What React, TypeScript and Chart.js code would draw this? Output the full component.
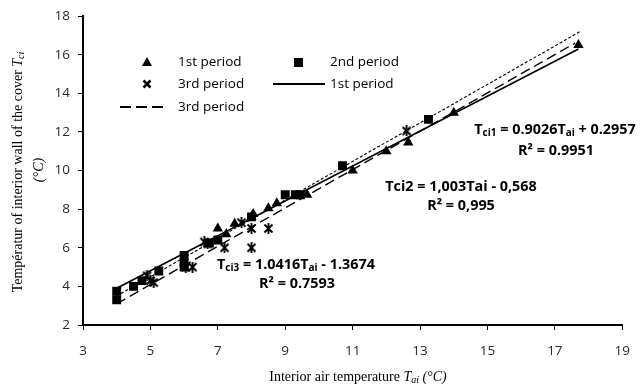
import React, { useEffect, useRef } from 'react';
import { Chart, registerables } from 'chart.js';

Chart.register(...registerables);

// ---- data ----
const p1X = [7.0, 7.25, 7.5, 8.0, 8.05, 8.5, 8.75, 9.65, 11.0, 12.0, 12.65, 14.0, 17.7];
const p1Y = [7.0, 6.7, 7.25, 7.6, 7.75, 8.05, 8.3, 8.75, 10.0, 11.0, 11.45, 13.0, 16.5];

const p2X = [4.0, 4.0, 4.5, 4.75, 5.25, 6.0, 6.0, 6.0, 6.75, 7.0, 8.0, 9.0, 9.3, 9.45, 10.7, 13.25];
const p2Y = [3.75, 3.3, 4.0, 4.3, 4.8, 5.6, 5.2, 5.0, 6.25, 6.4, 7.6, 8.75, 8.75, 8.75, 10.25, 12.65];

const p3X = [4.9, 5.0, 5.1, 6.05, 6.25, 6.6, 6.7, 7.2, 7.7, 8.0, 8.0, 8.5, 12.6];
const p3Y = [4.55, 4.3, 4.2, 5.0, 5.0, 6.3, 6.2, 6.0, 7.3, 6.0, 7.0, 7.0, 12.05];

// trend line end points (as drawn in the reference)
const trend1X = [4, 17.7];
const trend1Y = [3.9, 16.3];
const trend2X = [4, 17.75];
const trend2Y = [3.5, 17.2];
const trend3X = [4, 17.6];
const trend3Y = [3.1, 16.6];

const xTickValues = [3, 5, 7, 9, 11, 13, 15, 17, 19];
const yTickValues = [2, 4, 6, 8, 10, 12, 14, 16, 18];

const legendLabels = ['1st period', '2nd period', '3rd period', '1st period', '3rd period'];
const eq1 = ['T', 'ci1', ' = 0.9026T', 'ai', ' + 0.2957'];
const r1 = 'R² = 0.9951';
const eq2 = 'Tci2 = 1,003Tai - 0,568';
const r2 = 'R² = 0,995';
const eq3 = ['T', 'ci3', ' = 1.0416T', 'ai', ' - 1.3674'];
const r3 = 'R² = 0.7593';
const xTitle = ['Interior air temperature ', 'T', 'ai', ' (°C)'];
const yTitle = ['Températur of interior wall of the cover ', 'T', 'ci'];
const yTitle2 = '(°C)';

const zip = (xs: number[], ys: number[]) => xs.map((x, i) => ({ x, y: ys[i] }));

const SANS = '"Open Sans", "DejaVu Sans", sans-serif';
const SERIF = '"Liberation Serif", "DejaVu Serif", serif';

type Run = { t: string; font: string; dy?: number };

function drawRuns(ctx: CanvasRenderingContext2D, runs: Run[], cx: number, y: number, align: 'center' | 'left') {
  let total = 0;
  const widths = runs.map((r) => {
    ctx.font = r.font;
    const w = ctx.measureText(r.t).width;
    total += w;
    return w;
  });
  let x = align === 'center' ? cx - total / 2 : cx;
  ctx.textAlign = 'left';
  runs.forEach((r, i) => {
    ctx.font = r.font;
    ctx.fillText(r.t, x, y + (r.dy || 0));
    x += widths[i];
  });
}

function makeStar(): HTMLCanvasElement {
  const c = document.createElement('canvas');
  c.width = 11;
  c.height = 11;
  const g = c.getContext('2d')!;
  g.strokeStyle = '#000';
  g.lineWidth = 1.9;
  g.beginPath();
  g.moveTo(1.5, 1.5); g.lineTo(9.5, 9.5);
  g.moveTo(9.5, 1.5); g.lineTo(1.5, 9.5);
  g.moveTo(5.5, 0); g.lineTo(5.5, 11);
  g.stroke();
  return c;
}

const overlayPlugin = {
  id: 'overlay',
  afterDraw(chart: any) {
    const ctx: CanvasRenderingContext2D = chart.ctx;
    ctx.save();
    ctx.fillStyle = '#000';
    ctx.strokeStyle = '#000';
    ctx.textBaseline = 'middle';

    // ---- legend ----
    const lf = `13.5px ${SANS}`;
    ctx.beginPath();
    ctx.moveTo(147, 57); ctx.lineTo(152, 66); ctx.lineTo(142, 66); ctx.closePath(); ctx.fill();
    ctx.fillRect(294, 58, 9, 9);
    ctx.lineWidth = 2.6;
    ctx.beginPath();
    ctx.moveTo(143.5, 80.5); ctx.lineTo(150.5, 87.5);
    ctx.moveTo(150.5, 80.5); ctx.lineTo(143.5, 87.5);
    ctx.stroke();
    ctx.lineWidth = 1.8;
    ctx.beginPath(); ctx.moveTo(273, 84); ctx.lineTo(325, 84); ctx.stroke();
    ctx.setLineDash([11, 5]);
    ctx.beginPath(); ctx.moveTo(120, 107); ctx.lineTo(166, 107); ctx.stroke();
    ctx.setLineDash([]);
    ctx.font = lf;
    ctx.textAlign = 'left';
    ctx.fillText(legendLabels[0], 178, 62);
    ctx.fillText(legendLabels[1], 330, 62);
    ctx.fillText(legendLabels[2], 178, 84);
    ctx.fillText(legendLabels[3], 330, 84);
    ctx.fillText(legendLabels[4], 178, 107);

    // ---- annotations ----
    const bf = `bold 14.4px ${SANS}`;
    const bs = `bold 10px ${SANS}`;
    const eqRuns = (e: string[]): Run[] => [
      { t: e[0], font: bf },
      { t: e[1], font: bs, dy: 3 },
      { t: e[2], font: bf },
      { t: e[3], font: bs, dy: 3 },
      { t: e[4], font: bf },
    ];
    drawRuns(ctx, eqRuns(eq1), 555, 130, 'center');
    drawRuns(ctx, [{ t: r1, font: bf }], 556, 151, 'center');
    drawRuns(ctx, [{ t: eq2, font: bf }], 461, 187, 'center');
    drawRuns(ctx, [{ t: r2, font: bf }], 461, 206, 'center');
    drawRuns(ctx, eqRuns(eq3), 296, 265, 'center');
    drawRuns(ctx, [{ t: r3, font: bf }], 297, 284, 'center');

    // ---- axis titles ----
    const sf = `14px ${SERIF}`;
    const si = `italic 14px ${SERIF}`;
    const ss = `italic 10px ${SERIF}`;
    drawRuns(ctx, [
      { t: xTitle[0], font: sf },
      { t: xTitle[1], font: si },
      { t: xTitle[2], font: ss, dy: 3 },
      { t: xTitle[3], font: si },
    ], 358, 377, 'center');

    ctx.save();
    ctx.translate(18, 172);
    ctx.rotate(-Math.PI / 2);
    drawRuns(ctx, [
      { t: yTitle[0], font: sf },
      { t: yTitle[1], font: si },
      { t: yTitle[2], font: ss, dy: 3 },
    ], 0, 0, 'center');
    ctx.restore();
    ctx.save();
    ctx.translate(39, 170);
    ctx.rotate(-Math.PI / 2);
    drawRuns(ctx, [{ t: yTitle2, font: si }], 0, 0, 'center');
    ctx.restore();

    ctx.restore();
  },
};

export default function App() {
  const ref = useRef<HTMLCanvasElement>(null);
  useEffect(() => {
    const star = makeStar();
    const tickFont = { family: SANS, size: 13.5 };
    const chart = new Chart(ref.current!, {
      type: 'scatter',
      data: {
        datasets: [
          {
            label: 'trend1', type: 'line', data: zip(trend1X, trend1Y) as any,
            borderColor: '#000', borderWidth: 1.6, pointRadius: 0, fill: false,
          } as any,
          {
            label: 'trend2', type: 'line', data: zip(trend2X, trend2Y) as any,
            borderColor: '#000', borderWidth: 1.1, borderDash: [3, 2], pointRadius: 0, fill: false,
          } as any,
          {
            label: 'trend3', type: 'line', data: zip(trend3X, trend3Y) as any,
            borderColor: '#000', borderWidth: 1.4, borderDash: [10, 5], pointRadius: 0, fill: false,
          } as any,
          {
            label: '1st period', data: zip(p1X, p1Y), pointStyle: 'triangle', pointRadius: 6,
            backgroundColor: '#000', borderColor: '#000', borderWidth: 0,
          },
          {
            label: '2nd period', data: zip(p2X, p2Y), pointStyle: 'rect', pointRadius: 6.3,
            backgroundColor: '#000', borderColor: '#000', borderWidth: 0,
          },
          {
            label: '3rd period', data: zip(p3X, p3Y), pointStyle: star as any, pointRadius: 5,
            backgroundColor: '#000', borderColor: '#000',
          },
        ],
      },
      options: {
        responsive: false,
        animation: false,
        layout: { padding: { left: 0, right: 8, top: 15, bottom: 0 } },
        plugins: { legend: { display: false }, tooltip: { enabled: false } },
        scales: {
          x: {
            type: 'linear', min: 3, max: 19,
            afterBuildTicks: (s: any) => { s.ticks = xTickValues.map((v) => ({ value: v })); },
            afterFit: (s: any) => { s.height = 66; },
            ticks: { font: tickFont, color: '#2a2a2a', padding: 13, maxRotation: 0 },
            grid: { drawOnChartArea: false, drawTicks: true, tickLength: 5, color: '#000', lineWidth: 1 },
            border: { color: '#000', width: 2 },
          },
          y: {
            type: 'linear', min: 2, max: 18,
            afterBuildTicks: (s: any) => { s.ticks = yTickValues.map((v) => ({ value: v })); },
            afterFit: (s: any) => { s.width = 83; },
            ticks: { font: tickFont, color: '#2a2a2a', padding: 8 },
            grid: { drawOnChartArea: false, drawTicks: true, tickLength: 5, color: '#000', lineWidth: 1 },
            border: { color: '#000', width: 2 },
          },
        },
      },
      plugins: [overlayPlugin],
    });
    return () => chart.destroy();
  }, []);
  return (
    <div style={{ position: 'fixed', left: 0, top: 0, width: 643, height: 391, background: '#fff' }}>
      <canvas ref={ref} width={643} height={391} style={{ width: 643, height: 391, display: 'block' }} />
    </div>
  );
}
